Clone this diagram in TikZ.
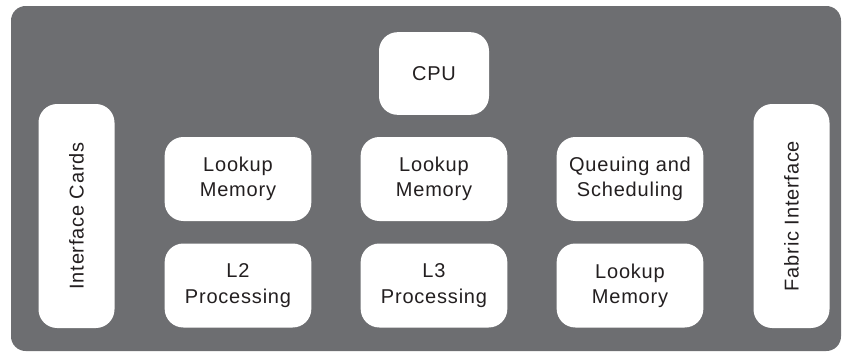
\documentclass[tikz,border=0pt]{standalone}
\usepackage{fontspec}
\setmainfont{Liberation Sans}[LetterSpace=4]
\usepackage{tikz}

\definecolor{chassisgray}{HTML}{6D6E71}
\definecolor{labeltext}{HTML}{231F20}

\tikzset{
	unit/.style={fill=white, rounded corners=14pt, inner sep=0pt, align=center,
		text=labeltext, font=\fontsize{15}{19}\selectfont},
	block/.style={unit, minimum width=110pt, minimum height=63pt},
	slot/.style={unit, minimum width=57pt, minimum height=168pt},
}

\begin{document}
\begin{tikzpicture}[x=0.75pt, y=-0.75pt]
	\useasboundingbox (0,0) rectangle (846,354);
	\fill[chassisgray, rounded corners=11pt] (11,6) rectangle (841,351);
	\node[block, minimum width=82.5pt, minimum height=62pt] (cpu) at (434,73.5) {CPU};
	\node[slot] (ifcards) at (76.5,216) {};
	\node[rotate=90, text=labeltext, font=\fontsize{15}{19}\selectfont] (ifcardslbl) at (ifcards.center) {Interface Cards};
	\node[block] (lkpleft) at (238,179) {Lookup\\Memory};
	\node[block] (lkpmid) at (434,179) {Lookup\\Memory};
	\node[block] (queue) at (630,179) {Queuing and\\Scheduling};
	\node[block] (ltwo) at (238,285.5) {L2\\Processing};
	\node[block] (lthree) at (434,285.5) {L3\\Processing};
	\node[block] (lkpright) at (630,285.5) {Lookup\\Memory};
	\node[slot] (fabric) at (791.5,216) {};
	\node[rotate=90, text=labeltext, font=\fontsize{15}{19}\selectfont] (fabriclbl) at (fabric.center) {Fabric Interface};
\end{tikzpicture}
\end{document}
